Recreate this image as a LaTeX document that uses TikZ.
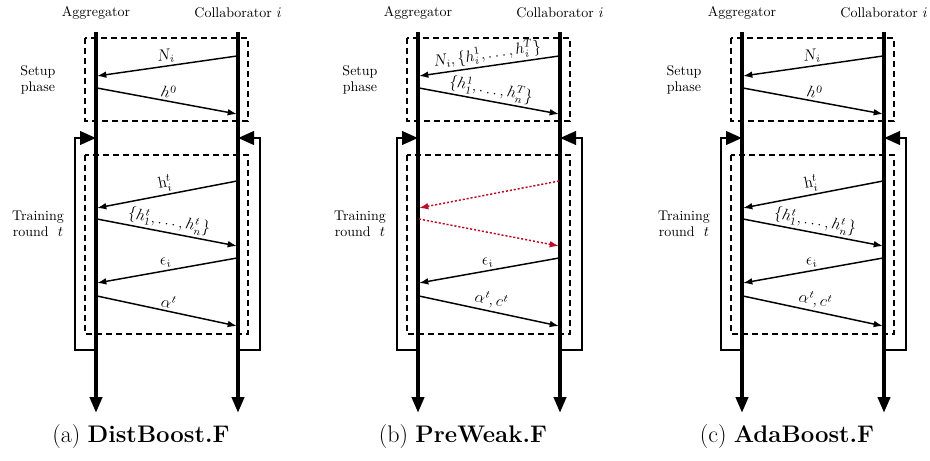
\documentclass[tikz,border=0pt]{standalone}
\usepackage{amsmath}
\usetikzlibrary{arrows.meta,calc}
\definecolor{dotred}{RGB}{185,15,40}

\begin{document}
\begin{tikzpicture}[x=0.75pt,y=-0.75pt,
                        every node/.style={font=\fontsize{10.5}{12}\selectfont},
                        lifeline/.style={line width=3pt,-{Triangle[length=12pt,width=9pt]}},
                        phasebox/.style={dash pattern=on 4.5pt off 3pt,line width=0.9pt},
                        roundloop/.style={line width=2.2pt,-{Triangle[length=12pt,width=10pt]}},
                        msg/.style={line width=1.1pt,-{Latex[length=7pt,width=5pt]}},
                        hiddenmsg/.style={msg,dotred,dash pattern=on 1.6pt off 1.4pt},
                        lbl/.style={above=-1.5pt,sloped,midway,font=\fontsize{11.5}{13}\selectfont},
                        caption/.style={font=\fontsize{18}{21}\selectfont}
                        ]
                        \useasboundingbox (0,0) rectangle (930,460);
                        % the three panels share one skeleton
                        \foreach \p/\dx/\name in {a/0/DistBoost.F,b/322/PreWeak.F,c/646/AdaBoost.F}{
                        \begin{scope}[shift={(\dx,0)}]
                        \node (agg\p) at (96,13) {Aggregator};
                        \node (col\p) at (238,13) {Collaborator $i$};
                        \node[align=center] (setup\p) at (38,80) {Setup\\phase};
                        \node[align=center] (train\p) at (38,224) {Training\\round~~$t$};
                        \coordinate (aggtop\p) at (96,32);
                        \coordinate (aggend\p) at (96,413);
                        \coordinate (coltop\p) at (238,32);
                        \coordinate (colend\p) at (238,413);
                        % draw phase boxes
                        \draw[phasebox] (85,38) rectangle (248,121);
                        \draw[phasebox] (85,155) rectangle (248,334);
                        % draw round loops
                        \coordinate (aggloop\p) at (96,350);
                        \coordinate (aggback\p) at (96,138);
                        \coordinate (colloop\p) at (238,350);
                        \coordinate (colback\p) at (238,138);
                        \draw[roundloop] (aggloop\p) -- ++(-21,0) |- (aggback\p);
                        \draw[roundloop] (colloop\p) -- ++(22,0) |- (colback\p);
                        % lifelines
                        \draw[lifeline] (aggtop\p) -- (aggend\p);
                        \draw[lifeline] (coltop\p) -- (colend\p);
                        % message ends
                        \foreach \k/\xs/\ys/\xe/\ye in {1/237/56/97/76,2/97/88/237/114,3/237/181/97/208,
                                4/97/219/237/246,5/237/258/97/283,6/97/296/237/326}{
                                \coordinate (m\p\k s) at (\xs,\ys);
                                \coordinate (m\p\k e) at (\xe,\ye);
                        }
                        \node[caption] (cap\p) at (141,437) {(\p) \textbf{\name}};
                        \end{scope}
                        }
                        % (a)
                        \draw[msg] (ma1s) -- node[lbl] {$N_i$} (ma1e);
                        \draw[msg] (ma2s) -- node[lbl] {$h^0$} (ma2e);
                        \draw[msg] (ma3s) -- node[lbl] {$\mathrm{h}_i^t$} (ma3e);
                        \draw[msg] (ma4s) -- node[lbl] {$\{h_1^t,\ldots,h_n^t\}$} (ma4e);
                        \draw[msg] (ma5s) -- node[lbl] {$\epsilon_i$} (ma5e);
                        \draw[msg] (ma6s) -- node[lbl] {$\alpha^t$} (ma6e);
                        % (b)
                        \draw[msg] (mb1s) -- node[lbl] {$N_i,\{h_i^1,\ldots,h_i^T\}$} (mb1e);
                        \draw[msg] (mb2s) -- node[lbl] {$\{h_1^1,\ldots,h_n^T\}$} (mb2e);
                        \draw[hiddenmsg] (mb3s) -- (mb3e);
                        \draw[hiddenmsg] (mb4s) -- (mb4e);
                        \draw[msg] (mb5s) -- node[lbl] {$\epsilon_i$} (mb5e);
                        \draw[msg] (mb6s) -- node[lbl] {$\alpha^t,c^t$} (mb6e);
                        % (c)
                        \draw[msg] (mc1s) -- node[lbl] {$N_i$} (mc1e);
                        \draw[msg] (mc2s) -- node[lbl] {$h^0$} (mc2e);
                        \draw[msg] (mc3s) -- node[lbl] {$\mathrm{h}_i^t$} (mc3e);
                        \draw[msg] (mc4s) -- node[lbl] {$\{h_1^t,\ldots,h_n^t\}$} (mc4e);
                        \draw[msg] (mc5s) -- node[lbl] {$\epsilon_i$} (mc5e);
                        \draw[msg] (mc6s) -- node[lbl] {$\alpha^t,c^t$} (mc6e);
                \end{tikzpicture}
\end{document}
